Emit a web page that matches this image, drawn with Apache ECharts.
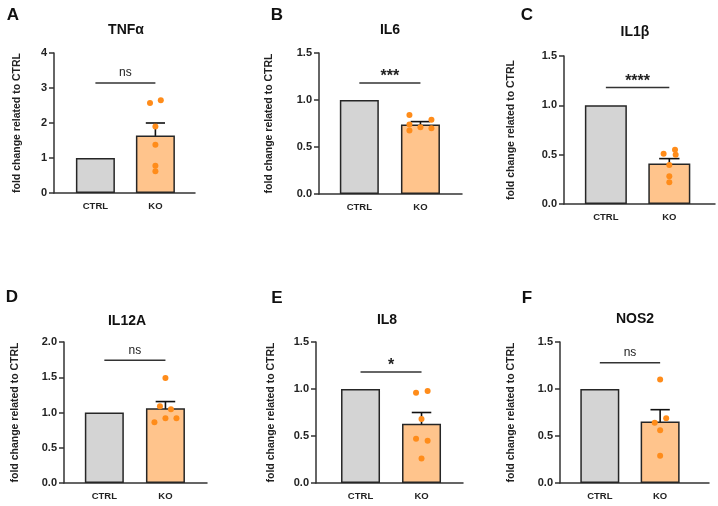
<!DOCTYPE html>
<html>
<head>
<meta charset="utf-8">
<script src="https://cdn.jsdelivr.net/npm/echarts@6/dist/echarts.min.js"></script>
<style>
  html, body { margin: 0; padding: 0; background: #fff; }
  #chart { width: 718px; height: 506px; }
</style>
</head>
<body>
<div id="chart"></div>
<script>
// data (fold change, CTRL normalised to 1)
const panelLetters = ['A', 'B', 'C', 'D', 'E', 'F'];
const genes = ['TNFα', 'IL6', 'IL1β', 'IL12A', 'IL8', 'NOS2'];
const groups = ['CTRL', 'KO'];
const ctrlMeans = [1, 1, 1, 1, 1, 1];
const koMeans = [1.64, 0.74, 0.41, 1.06, 0.63, 0.655];
const koSem = [0.36, 0.03, 0.05, 0.095, 0.12, 0.125];
const koPoints = [
  [2.57, 2.65, 1.90, 1.38, 0.78, 0.62],
  [0.84, 0.79, 0.675, 0.71, 0.70, 0.74],
  [0.51, 0.55, 0.50, 0.395, 0.28, 0.22],
  [1.49, 1.09, 1.045, 0.86, 0.92, 0.92],
  [0.96, 0.98, 0.68, 0.47, 0.45, 0.26],
  [1.10, 0.69, 0.64, 0.56, 0.29]
];
// horizontal scatter of the dots, in category units around KO
const koJitter = [
  [-0.09, 0.09, 0, 0, 0, 0],
  [-0.18, 0.18, -0.18, 0, 0.18, -0.18],
  [-0.09, 0.09, 0.1, 0, 0, 0],
  [0, -0.09, 0.09, -0.18, 0, 0.18],
  [-0.09, 0.1, 0, -0.09, 0.1, 0],
  [0, 0.1, -0.09, 0, 0]
];
const yMax = [4, 1.5, 1.5, 2, 1.5, 1.5];
const yStep = [1, 0.5, 0.5, 0.5, 0.5, 0.5];
const sigLevel = [3.14, 1.18, 1.18, 1.74, 1.18, 1.28];
const sigText = ['ns', '***', '****', 'ns', '*', 'ns'];

// layout of the six panels
const grids = [
  { left: 54, top: 53, width: 141, height: 140 },
  { left: 319, top: 53, width: 143, height: 141 },
  { left: 564, top: 56, width: 151, height: 148 },
  { left: 64, top: 342, width: 143, height: 141 },
  { left: 316, top: 342, width: 147, height: 141 },
  { left: 560, top: 342, width: 149, height: 141 }
];
const xRange = [[-0.69, 1.66], [-0.66, 1.68], [-0.66, 1.72], [-0.66, 1.68], [-0.73, 1.68], [-0.66, 1.81]];
const barW = [39, 39, 42, 39, 39, 39];
const nameGaps = [31, 44, 47, 43, 39, 43];
const letterPos = [[13, 15], [277, 15], [527, 15], [12, 297], [277, 298], [527, 298]];
const titlePos = [[126, 30], [390, 30], [635, 32], [127, 321], [387, 320], [635, 319]];

const FONT = '"Liberation Sans", Arial, sans-serif';
const AXIS = '#333';
const GRAY = '#d4d4d4';
const ORANGE_BAR = '#ffc48c';
const ORANGE_DOT = '#ff8c1a';

const chart = echarts.init(document.getElementById('chart'), null, { renderer: 'canvas' });

const xAxes = [], yAxes = [], series = [], graphics = [];

grids.forEach((g, i) => {
  xAxes.push({
    gridIndex: i,
    type: 'value',
    min: xRange[i][0],
    max: xRange[i][1],
    splitLine: { show: false },
    axisTick: { show: false },
    axisLine: { onZero: false, lineStyle: { color: AXIS, width: 1.5 } },
    axisLabel: {
      customValues: [0, 1],
      formatter: v => groups[Math.round(v)],
      margin: 8,
      fontFamily: FONT,
      fontWeight: 'bold',
      fontSize: 9.5,
      color: '#222'
    }
  });
  yAxes.push({
    gridIndex: i,
    type: 'value',
    min: 0,
    max: yMax[i],
    interval: yStep[i],
    name: 'fold change related to CTRL',
    nameLocation: 'middle',
    nameGap: nameGaps[i],
    nameTextStyle: { fontFamily: FONT, fontWeight: 'bold', fontSize: 10.5, color: '#222' },
    splitLine: { show: false },
    axisLine: { show: true, onZero: false, lineStyle: { color: AXIS, width: 1.5 } },
    axisTick: { show: true, length: 5, lineStyle: { color: AXIS, width: 1.5 } },
    axisLabel: {
      margin: 7,
      fontFamily: FONT,
      fontWeight: 'bold',
      fontSize: 11,
      color: '#222',
      formatter: v => (yStep[i] >= 1 ? v.toFixed(0) : v.toFixed(1))
    }
  });

  // group means
  series.push({
    type: 'bar',
    xAxisIndex: i,
    yAxisIndex: i,
    barWidth: barW[i],
    data: [
      { value: [0, ctrlMeans[i]], itemStyle: { color: GRAY } },
      { value: [1, koMeans[i]], itemStyle: { color: ORANGE_BAR } }
    ],
    itemStyle: { borderColor: '#262626', borderWidth: 1.5 },
    silent: true
  });

  // SEM error bar on KO
  series.push({
    type: 'custom',
    xAxisIndex: i,
    yAxisIndex: i,
    data: [[1, koMeans[i], koSem[i]]],
    renderItem: (params, api) => {
      const x = api.value(0), m = api.value(1), s = api.value(2);
      const top = api.coord([x, m + s]);
      const bot = api.coord([x, m - s]);
      const hw = api.size([0.16, 0])[0];
      const st = { stroke: '#111', lineWidth: 1.6 };
      return {
        type: 'group',
        children: [
          { type: 'line', shape: { x1: top[0], y1: top[1], x2: bot[0], y2: bot[1] }, style: st },
          { type: 'line', shape: { x1: top[0] - hw, y1: top[1], x2: top[0] + hw, y2: top[1] }, style: st },
          { type: 'line', shape: { x1: bot[0] - hw, y1: bot[1], x2: bot[0] + hw, y2: bot[1] }, style: st }
        ]
      };
    },
    silent: true
  });

  // individual replicates
  series.push({
    type: 'scatter',
    xAxisIndex: i,
    yAxisIndex: i,
    symbolSize: 6,
    itemStyle: { color: ORANGE_DOT, opacity: 1 },
    data: koPoints[i].map((v, k) => [1 + koJitter[i][k], v]),
    silent: true
  });

  // significance bracket
  series.push({
    type: 'custom',
    xAxisIndex: i,
    yAxisIndex: i,
    data: [[sigLevel[i]]],
    renderItem: (params, api) => {
      const y = api.value(0);
      const a = api.coord([0, y]);
      const b = api.coord([1, y]);
      const isNs = sigText[i] === 'ns';
      return {
        type: 'group',
        children: [
          { type: 'line', shape: { x1: a[0], y1: a[1], x2: b[0], y2: b[1] }, style: { stroke: AXIS, lineWidth: 1.5 } },
          {
            type: 'text',
            x: (a[0] + b[0]) / 2,
            y: a[1] - (isNs ? 10 : 6),
            style: {
              text: sigText[i],
              align: 'center',
              verticalAlign: 'middle',
              font: (isNs ? 'normal 12px ' : 'bold 16px ') + FONT,
              fill: '#222'
            }
          }
        ]
      };
    },
    silent: true
  });

  graphics.push({
    type: 'text', x: letterPos[i][0], y: letterPos[i][1],
    style: { text: panelLetters[i], align: 'center', verticalAlign: 'middle', font: 'bold 17px ' + FONT, fill: '#111' }
  });
  graphics.push({
    type: 'text', x: titlePos[i][0], y: titlePos[i][1],
    style: { text: genes[i], align: 'center', verticalAlign: 'middle', font: 'bold 14px ' + FONT, fill: '#111' }
  });
});

chart.setOption({
  animation: false,
  backgroundColor: '#fff',
  grid: grids,
  xAxis: xAxes,
  yAxis: yAxes,
  series: series,
  graphic: graphics
});
</script>
</body>
</html>
